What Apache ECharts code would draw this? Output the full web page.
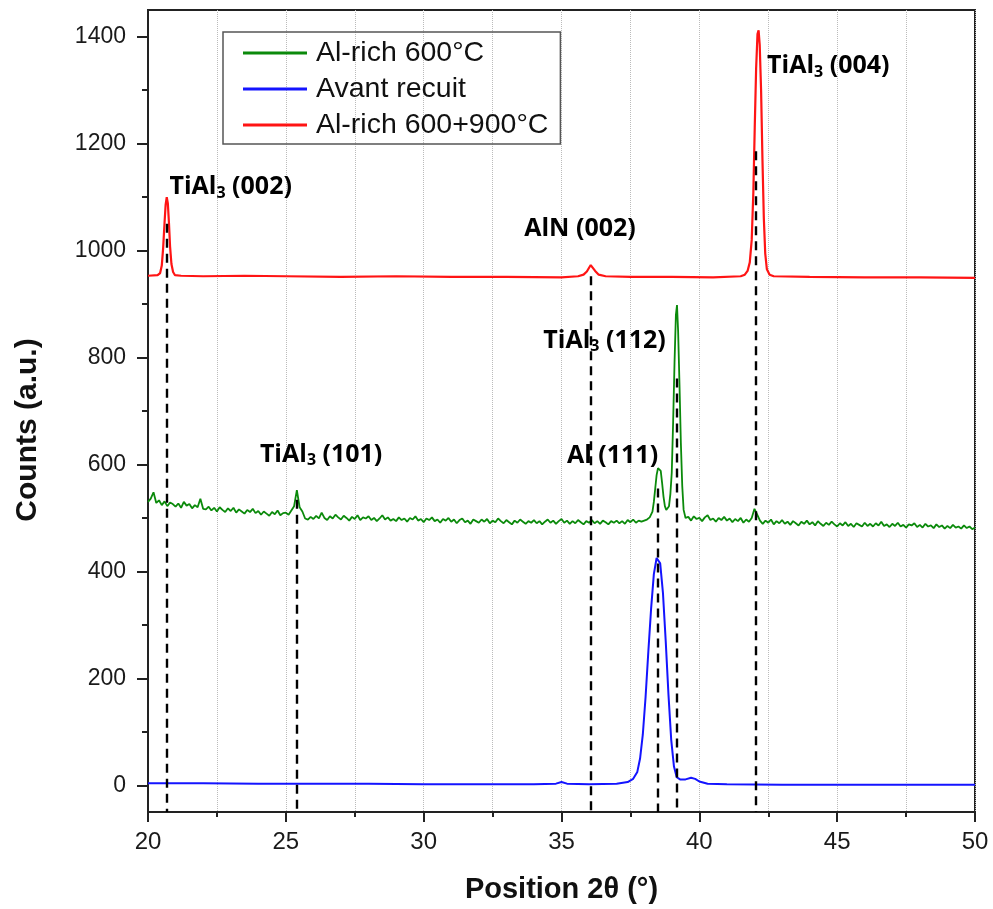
<!DOCTYPE html>
<html><head><meta charset="utf-8">
<script src="https://cdn.jsdelivr.net/npm/echarts@6/dist/echarts.min.js"></script>
<style>html,body{margin:0;padding:0;background:#fff}#c{width:993px;height:909px}</style>
</head><body><div id="c"></div><script>
// ---- data ----
const seriesNames = ['Al-rich 600°C', 'Avant recuit', 'Al-rich 600+900°C'];
const seriesColors = ['#0b8a0b', '#1414ff', '#ff1414'];

// Red: Al-rich 600+900°C  [2θ, counts]
const redData = [[20.0,953],[20.35,954],[20.44,958],[20.5,972],[20.55,1005],[20.6,1052],[20.64,1086],[20.68,1100],[20.72,1088],[20.76,1052],[20.8,1008],[20.85,975],[20.91,960],[20.98,954],[21.2,953],[22,952],[23.5,953],[25,952],[27,951],[29,952],[31,951],[33,951],[35,950],[35.6,952],[35.8,955],[35.92,961],[36.0,968],[36.06,973],[36.12,970],[36.22,962],[36.35,955],[36.6,952],[37.5,951],[39,951],[40.5,950],[41.5,952],[41.65,955],[41.75,962],[41.83,978],[41.9,1020],[41.96,1110],[42.01,1230],[42.06,1340],[42.11,1405],[42.15,1412],[42.19,1385],[42.24,1300],[42.29,1170],[42.34,1060],[42.39,995],[42.45,965],[42.55,955],[42.7,952],[44,951],[46,950],[48,950],[50,949]];

// Blue: Avant recuit
const blueData = [[20,4],[22,4],[24,3],[26,3],[28,3],[30,2],[32,2],[34,2],[34.8,3],[35.0,6],[35.2,3],[36,2],[37,3],[37.4,6],[37.6,12],[37.75,25],[37.85,50],[37.95,95],[38.05,165],[38.15,250],[38.25,330],[38.35,395],[38.45,425],[38.5,428],[38.58,415],[38.68,360],[38.78,270],[38.88,170],[38.98,85],[39.08,35],[39.18,15],[39.3,11],[39.5,11],[39.7,14],[39.85,12],[40.0,7],[40.3,3],[41,2],[43,1],[45,1],[48,1],[50,1]];

// Green: Al-rich 600°C, sampled every 0.1° from 20.0 to 37.9
const greenStart1 = 20.0;
const greenValues1 = [
530,536,548,528,533,524,531,522,529,526,
521,527,519,530,523,526,518,524,520,536,
517,516,521,514,519,512,520,515,511,518,
513,519,510,516,512,508,515,511,517,509,
513,506,512,508,504,511,507,514,505,509,
510,506,514,522,552,520,512,499,497,502,
498,504,499,510,500,496,503,499,506,501,
497,504,500,495,502,498,505,496,501,499,
503,496,500,494,499,505,497,501,495,498,
494,501,496,499,493,500,497,503,495,498,
492,499,496,501,494,497,491,498,495,500,
493,497,490,496,499,492,495,489,497,494,
491,497,493,498,490,495,492,499,494,490,
496,492,488,495,491,497,493,489,494,491,
496,490,494,488,493,497,491,495,489,494,
498,491,495,489,494,490,496,492,488,494,
491,496,490,494,489,495,492,488,494,491,
495,490,494,489,496,492,497,491,495,493];
// Green: Al (111) and TiAl3 (112) peaks
const greenPeaks = [[38.0,495],[38.1,497],[38.2,501],[38.3,512],[38.35,530],[38.4,555],[38.45,580],[38.5,593],[38.55,596],[38.6,588],[38.65,565],[38.7,540],[38.75,522],[38.8,515],[38.85,514],[38.9,522],[38.95,545],[39.0,585],[39.05,680],[39.1,790],[39.15,880],[39.19,898],[39.23,850],[39.28,750],[39.33,640],[39.38,560],[39.43,515],[39.5,500]];
// Green: every 0.1° from 39.6 to 50.0
const greenStart2 = 39.6;
const greenValues2 = [
502,495,503,498,
500,494,501,505,496,499,493,500,496,502,
495,499,492,498,494,500,491,497,493,500,
517,506,495,489,495,491,497,488,494,490,
496,489,493,487,494,490,486,493,489,495,
488,492,486,494,489,485,491,487,493,488,
484,490,486,492,485,489,483,490,487,484,
491,485,489,484,490,486,493,485,488,483,
489,485,491,484,487,482,488,486,490,483,
487,482,489,484,486,481,488,483,486,480,
485,481,487,482,484,480,486,481,484,479,
482];

// Reference (dashed) lines: position and top of line
const refX   = [20.67, 25.4, 36.05, 38.5, 39.19, 42.05];
const refTop = [1050, 534, 952, 555, 761, 1186];

// Peak labels
const labelPre  = ['TiAl', 'AlN (002)', 'TiAl', 'TiAl', 'TiAl', 'Al (111)'];
const labelSub  = ['3', '', '3', '3', '3', ''];
const labelPost = [' (002)', '', ' (004)', ' (112)', ' (101)', ''];
const labelX    = [23.0, 35.67, 44.68, 36.56, 26.28, 36.85];
const labelY    = [1119, 1040, 1345, 832, 618, 616];

const yLabelValues = [0, 200, 400, 600, 800, 1000, 1200, 1400];
const yMinorValues = [100, 300, 500, 700, 900, 1100, 1300];

// ---- build ----
const greenData = [];
greenValues1.forEach((v, i) => greenData.push([+(greenStart1 + i * 0.1).toFixed(2), v]));
greenPeaks.forEach(p => greenData.push(p));
greenValues2.forEach((v, i) => greenData.push([+(greenStart2 + i * 0.1).toFixed(2), v]));

const refLines = refX.map((x, i) => [{coord: [x, refTop[i]]}, {coord: [x, -50]}]);
const labelData = labelX.map((x, i) => ({
  value: [x, labelY[i]],
  label: {formatter: '{a|' + labelPre[i] + '}' + (labelSub[i] ? '{s|' + labelSub[i] + '}{a|' + labelPost[i] + '}' : '')}
}));

const chart = echarts.init(document.getElementById('c'), null, {renderer: 'canvas'});
const axisColor = '#222';
const tickFont = {fontFamily: 'Liberation Sans, Arial, sans-serif', fontSize: 23, color: '#1a1a1a'};
chart.setOption({
  animation: false,
  backgroundColor: '#fff',
  grid: {left: 148, top: 10, width: 827, height: 802, show: true, borderColor: axisColor, borderWidth: 2, backgroundColor: 'transparent'},
  legend: {
    data: seriesNames.map(n => ({name: n, icon: 'rect'})), orient: 'vertical', left: 223, top: 32,
    borderColor: '#555', borderWidth: 1.5, padding: [6, 12, 4, 20],
    itemWidth: 64, itemHeight: 3, itemGap: 6,
    textStyle: {fontFamily: 'Liberation Sans, Arial, sans-serif', fontSize: 28.5, lineHeight: 30, color: '#111', padding: [0, 0, 0, 4]}
  },
  xAxis: {
    type: 'value', min: 20, max: 50, interval: 5,
    name: 'Position 2θ (°)', nameLocation: 'middle', nameGap: 63,
    nameTextStyle: {fontFamily: 'Liberation Sans, Arial, sans-serif', fontSize: 29, fontWeight: 'bold', color: '#111'},
    axisLine: {show: true, onZero: false, lineStyle: {color: axisColor, width: 2}},
    axisTick: {show: true, inside: false, length: 10, lineStyle: {color: axisColor, width: 2}},
    minorTick: {show: true, splitNumber: 2, length: 5, lineStyle: {color: axisColor, width: 2}},
    axisLabel: Object.assign({margin: 18}, tickFont, {fontSize: 24}),
    splitLine: {show: true, lineStyle: {color: '#bbb', type: 'dotted', width: 1}},
    minorSplitLine: {show: true, lineStyle: {color: '#bbb', type: 'dotted', width: 1}}
  },
  yAxis: [{
    type: 'value', min: -50, max: 1450, position: 'left',
    name: 'Counts (a.u.)', nameLocation: 'middle', nameGap: 105,
    nameTextStyle: {fontFamily: 'Liberation Sans, Arial, sans-serif', fontSize: 30, fontWeight: 'bold', color: '#111', padding: [0, 38, 0, 0]},
    axisLine: {show: true, onZero: false, lineStyle: {color: axisColor, width: 2}},
    axisTick: {show: true, length: 11, customValues: yLabelValues, lineStyle: {color: axisColor, width: 2}},
    axisLabel: Object.assign({margin: 22, customValues: yLabelValues, formatter: v => String(v)}, tickFont),
    splitLine: {show: false}
  }, {
    type: 'value', min: -50, max: 1450, position: 'left', offset: 0,
    axisLine: {show: false},
    axisTick: {show: true, length: 6, customValues: yMinorValues, lineStyle: {color: axisColor, width: 2}},
    axisLabel: {show: false},
    splitLine: {show: false}
  }],
  series: [
    {name: seriesNames[0], type: 'line', data: greenData, symbol: 'none', color: seriesColors[0], lineStyle: {width: 1.8}, z: 3},
    {name: seriesNames[1], type: 'line', data: blueData, symbol: 'none', color: seriesColors[1], lineStyle: {width: 2}, z: 3},
    {name: seriesNames[2], type: 'line', data: redData, symbol: 'none', color: seriesColors[2], lineStyle: {width: 2.2}, z: 3},
    {type: 'scatter', data: labelData, symbolSize: 1, itemStyle: {color: 'rgba(0,0,0,0)'}, z: 6, silent: true,
      label: {show: true, position: 'inside', color: '#000', opacity: 1,
        rich: {
          a: {fontFamily: 'Open Sans, sans-serif', fontWeight: 'bold', fontSize: 25, lineHeight: 30, color: '#000'},
          s: {fontFamily: 'Open Sans, sans-serif', fontWeight: 'bold', fontSize: 16, padding: [12, 0, 0, 0], color: '#000'}
        }},
      markLine: {symbol: ['none', 'none'], silent: true, label: {show: false},
        lineStyle: {color: '#000', type: [9, 6], width: 2.4}, data: refLines}
    }
  ]
});
</script></body></html>
